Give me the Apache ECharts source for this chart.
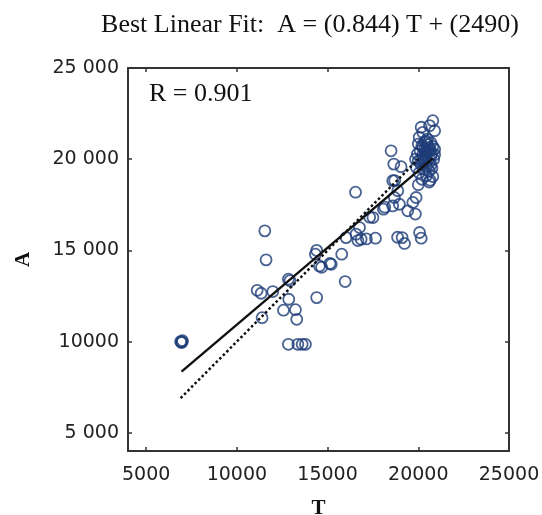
<!DOCTYPE html>
<html>
<head>
<meta charset="utf-8">
<script src="https://cdn.jsdelivr.net/npm/echarts@6/dist/echarts.min.js"></script>
<style>
html, body { margin: 0; padding: 0; background: #fff; }
#chart { width: 542px; height: 515px; }
</style>
</head>
<body>
<div id="chart"></div>
<script>
// tick values and their labels (as printed in the figure)
const xTicks = [5000, 10000, 15000, 20000, 25000]
const xTickLabels = ['5000', '10000', '15000', '20000', '25000']
const yTicks = [5000, 10000, 15000, 20000, 25000]
const yTickLabels = ['5 000', '10000', '15 000', '20 000', '25 000']

// targets (T) and outputs (A)
const targetT = [
    6900, 6950, 7000, 6980,
    11540, 11610, 11120, 11340, 11980, 11390, 12840, 12860, 12570, 13230, 13300,
    12840, 13360, 13600, 13780, 14400, 14330, 14550, 15200, 15780, 15970, 16020,
    16540, 16570, 16850, 17640, 16760, 17500, 18080, 18590, 18960, 18500, 18650,
    19050, 18590, 18870, 18680, 19110, 19240, 19420, 19840, 19880, 19700, 20070,
    20160, 14670, 12930, 15130, 16670, 17140, 17320, 18150, 18700, 18860, 14400,
    20800, 20620, 20160, 20250, 20900, 20050, 20430, 20700, 20000, 20250, 20600,
    20900, 20100, 20400, 20750, 19950, 20300, 20600, 20850, 20000, 20400, 20150,
    20700, 19900, 20300, 20600, 20050, 20450, 20800, 20200, 20600, 20000, 20900,
    20550, 19850, 20650,
    20200, 20350, 20500, 20650, 20800, 20250, 20400, 20550, 20700, 20150, 20300,
    20450, 20600, 20750, 20350, 20500
]
const outputA = [
    10000, 9950, 10050, 9980,
    16070, 14480, 12810, 12650, 12740, 11310, 13420, 12320, 11720, 11750, 11220,
    9850, 9850, 9850, 9850, 12410, 14790, 14150, 14240, 14790, 13290, 15700,
    18190, 15890, 15610, 15670, 16250, 16800, 17260, 17440, 17530, 20460, 19730,
    19590, 18820, 18270, 17900, 15700, 15380, 17170, 16990, 17900, 17630, 15980,
    15670, 14075, 13340, 14280, 15540, 15630, 16820, 17370, 18830, 15720, 15000,
    22110, 21840, 21750, 21470, 21560, 21200, 21000, 20900, 20830, 20650, 20650,
    20550, 20460, 20400, 20300, 20280, 20100, 20050, 20000, 19900, 19800, 19700,
    19700, 19550, 19450, 19350, 19250, 19100, 19050, 18900, 18750, 18600, 20250,
    20450, 20000, 18850,
    20750, 20550, 20800, 20500, 20700, 20250, 20150, 20350, 20200, 19950, 19850,
    19600, 19800, 19500, 20950, 21100
]

// regression result and line extents
const fitSlope = 0.844
const fitIntercept = 2490
const fitRange = [6950, 20800]
const identityRange = [6900, 20000]
const rValue = 0.901

const points = targetT.map((t, i) => [t, outputA[i]])
const fitLine = fitRange.map(t => [t, fitSlope * t + fitIntercept])
const identityLine = identityRange.map(t => [t, t])

const frameColor = '#333'
const labelFont = { fontFamily: 'DejaVu Sans', fontSize: 19, color: '#222' }

const baseAxis = {
    type: 'value',
    min: 4000,
    max: 25000,
    splitLine: { show: false },
    axisLine: { show: true, lineStyle: { color: frameColor, width: 2 } }
}

const option = {
    animation: false,
    backgroundColor: '#fff',
    title: {
        text: 'Best Linear Fit:  A = (' + fitSlope + ') T + (' + fitIntercept + ')',
        left: 305,
        top: 7,
        textAlign: 'center',
        textStyle: { fontFamily: 'Liberation Serif', fontSize: 26, fontWeight: 'normal', color: '#111' }
    },
    grid: { left: 128, top: 68, right: 33, bottom: 64, outerBoundsMode: 'none' },
    xAxis: [
        Object.assign({}, baseAxis, {
            position: 'bottom',
            name: 'T',
            nameLocation: 'middle',
            nameGap: 47,
            nameTextStyle: { fontFamily: 'Liberation Serif', fontSize: 21, fontWeight: 'bold', color: '#111' },
            axisTick: { show: true, inside: true, length: 4, customValues: xTicks, lineStyle: { color: frameColor, width: 1.5 } },
            axisLabel: Object.assign({
                customValues: xTicks,
                margin: 15,
                formatter: v => xTickLabels[xTicks.indexOf(v)]
            }, labelFont)
        }),
        Object.assign({}, baseAxis, {
            position: 'top',
            axisTick: { show: true, inside: true, length: 4, customValues: xTicks, lineStyle: { color: frameColor, width: 1.5 } },
            axisLabel: { show: false }
        })
    ],
    yAxis: [
        Object.assign({}, baseAxis, {
            position: 'left',
            name: 'A',
            nameLocation: 'middle',
            nameRotate: 90,
            nameGap: 94,
            nameTextStyle: { fontFamily: 'Liberation Serif', fontSize: 21, fontWeight: 'bold', color: '#111' },
            axisTick: { show: true, inside: true, length: 4, customValues: yTicks, lineStyle: { color: frameColor, width: 1.5 } },
            axisLabel: Object.assign({
                customValues: yTicks,
                margin: 9,
                formatter: v => yTickLabels[yTicks.indexOf(v)]
            }, labelFont)
        }),
        Object.assign({}, baseAxis, {
            position: 'right',
            axisTick: { show: true, inside: true, length: 4, customValues: yTicks, lineStyle: { color: frameColor, width: 1.5 } },
            axisLabel: { show: false }
        })
    ],
    graphic: [
        {
            type: 'text',
            left: 149,
            top: 81,
            style: { text: 'R = ' + rValue, font: '26px "Liberation Serif"', fill: '#111' }
        }
    ],
    series: [
        {
            type: 'scatter',
            data: points,
            symbol: 'circle',
            symbolSize: 11,
            itemStyle: { color: 'rgba(0,0,0,0)', borderColor: '#1d3c78', borderWidth: 1.8 }
        },
        {
            type: 'line',
            data: identityLine,
            symbol: 'none',
            lineStyle: { color: '#111', width: 2.5, type: 'dotted' }
        },
        {
            type: 'line',
            data: fitLine,
            symbol: 'none',
            lineStyle: { color: '#111', width: 2.4 }
        }
    ]
}

const chart = echarts.init(document.getElementById('chart'))
chart.setOption(option)
</script>
</body>
</html>
